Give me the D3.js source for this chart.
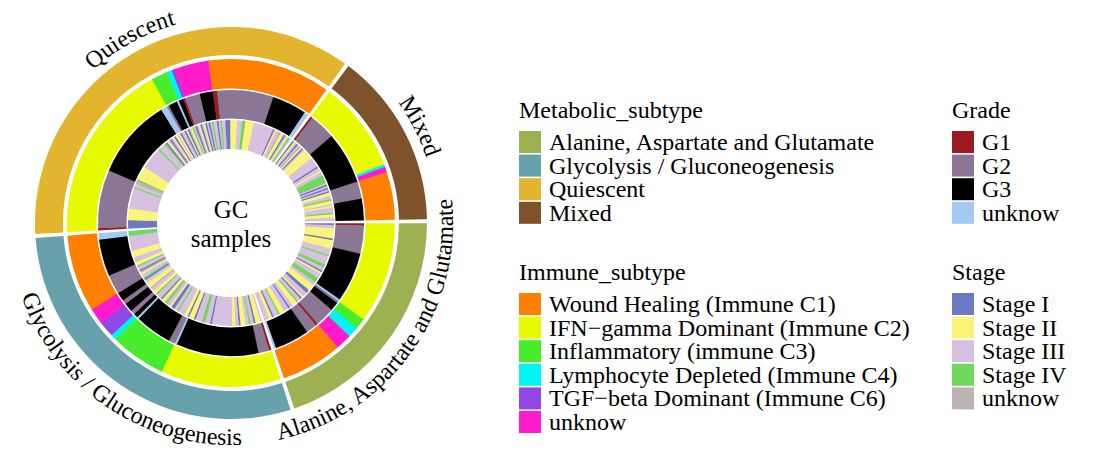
<!DOCTYPE html>
<html>
<head>
<meta charset="utf-8">
<script src="https://cdn.jsdelivr.net/npm/d3@7"></script>
<style>
  body { margin: 0; background: #fff; }
  svg { display: block; }
  text { font-family: "Liberation Serif", "Times New Roman", serif; fill: #000; }
</style>
</head>
<body>
<div id="chart"></div>
<script>
// sectors, clockwise from 3 o'clock
const sectorNames = ["Alanine, Aspartate and Glutamate", "Glycolysis / Gluconeogenesis", "Quiescent", "Mixed"];
const sectorColors = ["#9db052", "#67a2ac", "#e3b52f", "#7e522a"];

const immuneCodes = ["C1", "C2", "C3", "C4", "C6", "U"];
const immuneNames = ["Wound Healing (Immune C1)", "IFN\u2212gamma Dominant (Immune C2)", "Inflammatory (immune C3)",
  "Lymphocyte Depleted (Immune C4)", "TGF\u2212beta Dominant (Immune C6)", "unknow"];
const immuneColors = ["#ff7f00", "#e8fa00", "#47ed2b", "#00f4f4", "#9146e6", "#ff1acb"];

const gradeCodes = ["G1", "G2", "G3", "U"];
const gradeNames = ["G1", "G2", "G3", "unknow"];
const gradeColors = ["#9d1a1f", "#8b7795", "#000000", "#a3c9f0"];

const stageCodes = ["1", "2", "3", "4", "0"];
const stageNames = ["Stage I", "Stage II", "Stage III", "Stage IV", "unknow"];
const stageColors = ["#6b78c2", "#fcf37b", "#d8c0e0", "#70d85c", "#bdb3b3"];

// immune subtype per sector, as runs [code, samples]
const immuneRuns = [
  [["C2", 38], ["C3", 4], ["C4", 4], ["U", 6], ["C1", 23]],
  [["C2", 45], ["C3", 21], ["C4", 2], ["C6", 6], ["U", 6], ["C1", 29]],
  [["C2", 68], ["C3", 6], ["C4", 2], ["C6", 1], ["U", 13], ["C1", 46]],
  [["C2", 34], ["C4", 1], ["U", 2], ["C1", 18]]
];

// grade per sector, as runs
const gradeRuns = [
  [["G1", 1], ["G2", 13], ["G3", 23], ["U", 1], ["G2", 1], ["G3", 3], ["G3", 1], ["G2", 3], ["G2", 6],
   ["G1", 1], ["G2", 5], ["G3", 16], ["U", 1]],
  [["G1", 1], ["G2", 5], ["G3", 38], ["U", 1], ["G2", 3], ["G3", 17], ["U", 1], ["G3", 2], ["G2", 2], ["G3", 4],
   ["G2", 2], ["G3", 4], ["G2", 9], ["G3", 17], ["U", 3]],
  [["G1", 1], ["G2", 27], ["G3", 37], ["U", 3], ["G2", 1], ["G3", 4], ["U", 1], ["G3", 2], ["G1", 1],
   ["G2", 7], ["G3", 6], ["G1", 2], ["G2", 26], ["G3", 16], ["U", 2]],
  [["G1", 1], ["G2", 12], ["G3", 21], ["G3", 1], ["G3", 2], ["G2", 8], ["G3", 10]]
];

// stage per sample (1-4 = Stage I-IV, 0 = unknow), groups of ten
const stageSeq = [
  "1332222221 2222233334 3333344331 2333444332 2221133321 3342223313 3322243331 22333",
  "3222133433 2221332233 3333333333 1333443333 1222122333 3433112334 0221333422 3302223314 3320133422 3332222333 333333444",
  "1111122222 2233333333 3333433004 2222222233 3333333333 3433334123 1321232133 1213243132 1321313433 1343311122 2233344222 2233333333 3333123302 213243",
  "1231302132 2222233333 3133233444 4431313122 3342232333 42233"
];

const width = 1093, height = 463;
const cx = 231, cy = 223;
const startDeg = 0.1, gapDeg = 1.2;

const outerRing = { r0: 168, r1: 196 };
const rings = [
  { codes: immuneCodes, colors: immuneColors, r0: 134.5, r1: 164 },
  { codes: gradeCodes, colors: gradeColors, r0: 104.5, r1: 133 },
  { codes: stageCodes, colors: stageColors, r0: 74, r1: 103 }
];

const expand = (runs) => runs.flatMap(([c, n]) => d3.range(n).map(() => c));
const sampleSets = [
  immuneRuns.map(expand),
  gradeRuns.map(expand),
  stageSeq.map((s) => s.replace(/\s/g, "").split(""))
];

const counts = sampleSets[0].map((s) => s.length);
sampleSets.forEach((set, k) => set.forEach((s, i) => {
  if (s.length !== counts[i]) console.warn("ring", k, "sector", i, s.length, counts[i]);
}));

const unit = (360 - gapDeg * sectorNames.length) / d3.sum(counts);
const rad = Math.PI / 180;

// each sector gets its own index -> angle scale (d3.arc angles: 0 at 12 o'clock)
let acc = startDeg;
const sectorScales = counts.map((n) => {
  const a0 = acc, a1 = acc + n * unit;
  acc = a1 + gapDeg;
  return d3.scaleLinear().domain([0, n]).range([(a0 + 90) * rad, (a1 + 90) * rad]);
});

const svg = d3.select("#chart").append("svg")
  .attr("width", width).attr("height", height);

const g = svg.append("g").attr("transform", `translate(${cx},${cy})`);
const arc = d3.arc();

// outer metabolic ring
sectorScales.forEach((sc, i) => {
  g.append("path")
    .attr("d", arc({ innerRadius: outerRing.r0, outerRadius: outerRing.r1,
      startAngle: sc.range()[0], endAngle: sc.range()[1] }))
    .attr("fill", sectorColors[i]);
});

// inner rings, consecutive equal samples merged into one arc;
// each arc runs a little under the next one so no seams show
rings.forEach((ring, k) => {
  sampleSets[k].forEach((samples, i) => {
    const sc = sectorScales[i];
    let s = 0;
    while (s < samples.length) {
      let e = s;
      while (e < samples.length && samples[e] === samples[s]) e++;
      const end = e < samples.length ? sc(e) + 0.004 : sc(e);
      g.append("path")
        .attr("d", arc({ innerRadius: ring.r0, outerRadius: ring.r1,
          startAngle: sc(s), endAngle: end }))
        .attr("fill", ring.colors[ring.codes.indexOf(samples[s])]);
      s = e;
    }
  });
});

// sector labels bent along the circle
const pt = (deg, r) => [r * Math.cos(deg * rad), r * Math.sin(deg * rad)];
sectorScales.forEach((sc, i) => {
  const mid = (sc.range()[0] + sc.range()[1]) / 2 / rad - 90;
  const m = ((mid % 360) + 360) % 360;
  const lower = m > 0 && m < 180;
  const r = lower ? 222 : 206;
  const p0 = pt(lower ? mid + 85 : mid - 85, r);
  const p1 = pt(lower ? mid - 85 : mid + 85, r);
  g.append("path")
    .attr("id", "lab" + i)
    .attr("fill", "none")
    .attr("d", `M${p0[0]},${p0[1]} A${r},${r} 0 0 ${lower ? 0 : 1} ${p1[0]},${p1[1]}`);
  g.append("text")
    .attr("font-size", 24)
    .append("textPath")
    .attr("href", "#lab" + i)
    .attr("startOffset", "50%")
    .attr("text-anchor", "middle")
    .text(sectorNames[i]);
});

// centre title
g.append("text").attr("x", 0).attr("y", -5).attr("text-anchor", "middle")
  .attr("font-size", 25).text("GC");
g.append("text").attr("x", 0).attr("y", 24).attr("text-anchor", "middle")
  .attr("font-size", 25).text("samples");

// legends
function legend(x, y, title, names, colors) {
  const lg = svg.append("g").attr("transform", `translate(${x},${y})`);
  lg.append("text").attr("font-size", 24).text(title);
  names.forEach((n, i) => {
    const top = 13 + i * 23.6;
    lg.append("rect").attr("x", 0).attr("y", top).attr("width", 22).attr("height", 22)
      .attr("fill", colors[i]);
    lg.append("text").attr("x", 30).attr("y", top + 19).attr("font-size", 24).text(n);
  });
}

legend(519, 118, "Metabolic_subtype", sectorNames, sectorColors);
legend(519, 280, "Immune_subtype", immuneNames, immuneColors);
legend(952, 118, "Grade", gradeNames, gradeColors);
legend(952, 280, "Stage", stageNames, stageColors);
</script>
</body>
</html>
